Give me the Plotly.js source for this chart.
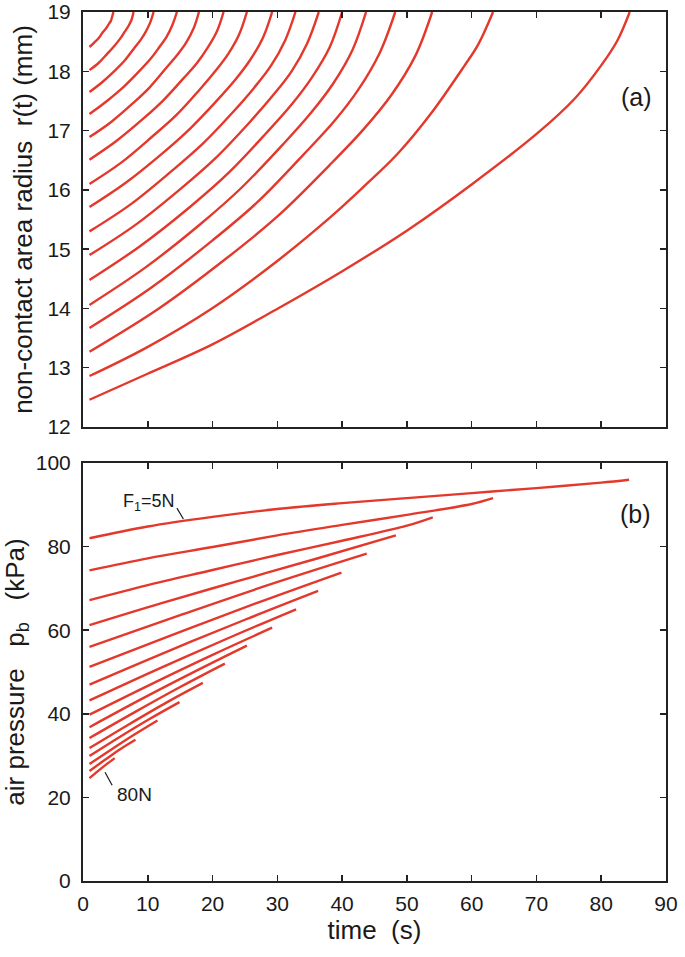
<!DOCTYPE html>
<html>
<head>
<meta charset="utf-8">
<script src="https://cdn.plot.ly/plotly-3.0.1.min.js"></script>
<style>html,body{margin:0;padding:0;background:#fff;}#chart{width:685px;height:957px;}</style>
</head>
<body>
<div id="chart"></div>
<script>
// Load F1 (N) for each curve
const forces = [5, 10, 15, 20, 25, 30, 35, 40, 45, 50, 55, 60, 65, 70, 75, 80];

// (a) non-contact area radius r(t) (mm) vs time (s)
const radiusTime = [
  [1, 9.8, 19.9, 30.1, 39.9, 50.1, 60.1, 70.2, 76.0, 80.0, 82.5, 84.4],
  [1, 9.8, 19.9, 30.1, 38.2, 43.3, 48.5, 53.6, 58.8, 61.0, 63.3],
  [1, 11.6, 22.2, 30.1, 38.0, 43.3, 47.6, 51.3, 53.9],
  [1, 10.4, 19.9, 27.0, 34.0, 38.8, 42.5, 45.8, 48.2],
  [1, 9.5, 18.1, 24.5, 30.9, 35.2, 38.6, 41.6, 43.7],
  [1, 8.8, 16.6, 22.5, 28.3, 32.2, 35.3, 38.1, 40.0],
  [1, 8.1, 15.2, 20.5, 25.8, 29.3, 32.2, 34.6, 36.4],
  [1, 7.4, 13.7, 18.5, 23.3, 26.4, 29.0, 31.2, 32.8],
  [1, 6.6, 12.3, 16.5, 20.7, 23.6, 25.8, 27.8, 29.2],
  [1, 5.9, 10.7, 14.4, 18.0, 20.4, 22.4, 24.1, 25.3],
  [1, 5.1, 9.3, 12.4, 15.5, 17.6, 19.2, 20.7, 21.7],
  [1, 4.4, 7.8, 10.3, 12.8, 14.5, 15.9, 17.1, 17.9],
  [1, 3.7, 6.4, 8.4, 10.5, 11.8, 12.9, 13.8, 14.5],
  [1, 3.0, 5.0, 6.5, 7.9, 8.9, 9.7, 10.4, 10.9],
  [1, 2.4, 3.7, 4.7, 5.8, 6.4, 7.0, 7.5, 7.8],
  [1, 1.7, 2.5, 3.0, 3.6, 4.0, 4.3, 4.5, 4.7]
];
const radiusValue = [
  [12.46, 12.89, 13.39, 14.00, 14.62, 15.32, 16.10, 16.96, 17.55, 18.10, 18.52, 19.0],
  [12.86, 13.34, 14.00, 14.81, 15.54, 16.05, 16.60, 17.27, 18.08, 18.45, 19.0],
  [13.27, 13.99, 14.85, 15.56, 16.41, 17.02, 17.60, 18.26, 19.0],
  [13.67, 14.34, 15.14, 15.80, 16.59, 17.16, 17.69, 18.31, 19.0],
  [14.06, 14.68, 15.42, 16.04, 16.77, 17.30, 17.79, 18.36, 19.0],
  [14.48, 15.05, 15.72, 16.29, 16.96, 17.44, 17.89, 18.41, 19.0],
  [14.90, 15.41, 16.03, 16.54, 17.15, 17.59, 18.00, 18.47, 19.0],
  [15.30, 15.76, 16.32, 16.78, 17.33, 17.72, 18.09, 18.52, 19.0],
  [15.71, 16.12, 16.62, 17.03, 17.51, 17.87, 18.19, 18.57, 19.0],
  [16.10, 16.46, 16.90, 17.26, 17.69, 18.00, 18.29, 18.62, 19.0],
  [16.51, 16.82, 17.20, 17.51, 17.88, 18.14, 18.39, 18.68, 19.0],
  [16.89, 17.15, 17.47, 17.73, 18.05, 18.27, 18.48, 18.73, 19.0],
  [17.28, 17.50, 17.75, 17.97, 18.22, 18.41, 18.58, 18.78, 19.0],
  [17.65, 17.82, 18.02, 18.19, 18.39, 18.53, 18.67, 18.83, 19.0],
  [18.02, 18.14, 18.29, 18.41, 18.56, 18.66, 18.76, 18.87, 19.0],
  [18.41, 18.48, 18.57, 18.65, 18.73, 18.80, 18.85, 18.92, 19.0]
];

// (b) air pressure p_b (kPa) vs time (s)
const pressureTime = [
  [1, 10, 20, 30, 40, 50, 60, 70, 80, 84.3],
  [1, 10, 20, 30, 40, 50, 60, 63.3],
  [1, 10, 20, 30, 40, 50, 54.0],
  [1, 12, 24, 36, 48.3],
  [1, 15, 29, 43.8],
  [1, 14, 27, 39.9],
  [1, 13, 25, 36.3],
  [1, 12, 23, 32.9],
  [1, 10, 20, 29.2],
  [1, 9, 17, 25.3],
  [1, 8, 15, 21.9],
  [1, 7, 13, 18.5],
  [1, 5.6, 10.2, 14.9],
  [1, 4.5, 8, 11.5],
  [1, 3.4, 5.8, 8.1],
  [1, 2.3, 3.6, 4.9]
];
const pressureValue = [
  [82.0, 84.8, 87.1, 89.0, 90.4, 91.6, 92.8, 94.0, 95.3, 96.0],
  [74.3, 77.2, 79.9, 82.7, 85.2, 87.6, 90.2, 91.6],
  [67.2, 70.8, 74.4, 78.0, 81.4, 85.0, 87.0],
  [61.2, 66.4, 71.8, 77.1, 82.7],
  [56.0, 63.6, 71.0, 78.3],
  [51.2, 59.0, 66.6, 73.8],
  [47.0, 54.9, 62.5, 69.4],
  [43.2, 51.0, 58.5, 65.0],
  [39.8, 46.7, 54.1, 60.6],
  [36.8, 43.5, 49.9, 56.3],
  [34.2, 40.4, 46.4, 52.0],
  [31.8, 37.4, 42.8, 47.4],
  [29.9, 34.4, 38.7, 42.8],
  [28.0, 31.6, 35.1, 38.4],
  [26.3, 29.0, 31.6, 33.8],
  [24.6, 26.3, 27.9, 29.4]
];

const xTicks = [0, 10, 20, 30, 40, 50, 60, 70, 80, 90];
const rTicks = [12, 13, 14, 15, 16, 17, 18, 19];
const pTicks = [0, 20, 40, 60, 80, 100];

const RED = '#e3382b';
const INK = '#1a1a1a';
const FONT = 'Liberation Sans, Arial, Helvetica, sans-serif';

const traces = [];
forces.forEach((f, i) => {
  traces.push({
    x: radiusTime[i], y: radiusValue[i], xaxis: 'x', yaxis: 'y',
    type: 'scatter', mode: 'lines', name: f + 'N',
    line: {color: RED, width: 2.4, shape: 'spline', smoothing: 1.0},
    showlegend: false, hoverinfo: 'skip'
  });
});
forces.forEach((f, i) => {
  traces.push({
    x: pressureTime[i], y: pressureValue[i], xaxis: 'x2', yaxis: 'y2',
    type: 'scatter', mode: 'lines', name: f + 'N',
    line: {color: RED, width: 2.4, shape: 'spline', smoothing: 1.0},
    showlegend: false, hoverinfo: 'skip'
  });
});

const axCommon = {
  showgrid: false, zeroline: false,
  showline: true, linecolor: '#222', linewidth: 2, mirror: 'ticks',
  ticks: 'inside', ticklen: 6, tickwidth: 1.5, tickcolor: '#222',
  ticklabeloverflow: 'allow',
  tickfont: {family: FONT, size: 21, color: INK}
};

const TITLE_FONT = {family: FONT, size: 26, color: INK};

const layout = {
  width: 685, height: 957,
  margin: {l: 83, r: 19, t: 12, b: 76},
  paper_bgcolor: '#fff', plot_bgcolor: '#fff',
  font: {family: FONT, color: INK},
  xaxis: Object.assign({}, axCommon, {
    domain: [0, 1], anchor: 'y', range: [0, 90],
    tickvals: xTicks, showticklabels: false
  }),
  yaxis: Object.assign({}, axCommon, {
    domain: [0.5224, 1], anchor: 'x', range: [12, 19],
    tickvals: rTicks, ticklabelstandoff: 6,
    title: {text: 'non-contact area radius  r(t) (mm)', font: TITLE_FONT, standoff: 7}
  }),
  xaxis2: Object.assign({}, axCommon, {
    domain: [0, 1], anchor: 'y2', range: [0, 90],
    tickvals: xTicks, ticklabelstandoff: 3,
    title: {text: 'time  (s)', font: TITLE_FONT, standoff: 2}
  }),
  yaxis2: Object.assign({}, axCommon, {
    domain: [0, 0.481], anchor: 'x2', range: [0, 100],
    tickvals: pTicks, ticklabelstandoff: 6,
    title: {text: 'air pressure&nbsp;&nbsp; p<sub>b</sub> &nbsp;&nbsp;(kPa)', font: TITLE_FONT, standoff: 7}
  }),
  annotations: [
    {xref: 'x', yref: 'y', x: 85.4, y: 17.57, text: '(a)', showarrow: false,
     font: {family: FONT, size: 25, color: INK}},
    {xref: 'x2', yref: 'y2', x: 85.3, y: 87.9, text: '(b)', showarrow: false,
     font: {family: FONT, size: 25, color: INK}},
    {xref: 'x2', yref: 'y2', x: 10.2, y: 90.6, text: 'F<sub>1</sub>=5N', showarrow: false,
     font: {family: FONT, size: 18, color: INK}},
    {xref: 'x2', yref: 'y2', x: 8.0, y: 20.6, text: '80N', showarrow: false,
     font: {family: FONT, size: 19, color: INK}}
  ],
  shapes: [
    {type: 'line', xref: 'x2', yref: 'y2', x0: 14.5, y0: 89.2, x1: 15.5, y1: 86.6,
     line: {color: INK, width: 1.2}},
    {type: 'line', xref: 'x2', yref: 'y2', x0: 3.4, y0: 26.0, x1: 4.5, y1: 22.9,
     line: {color: INK, width: 1.2}}
  ]
};

Plotly.newPlot('chart', traces, layout, {staticPlot: true, displayModeBar: false});
</script>
</body>
</html>
